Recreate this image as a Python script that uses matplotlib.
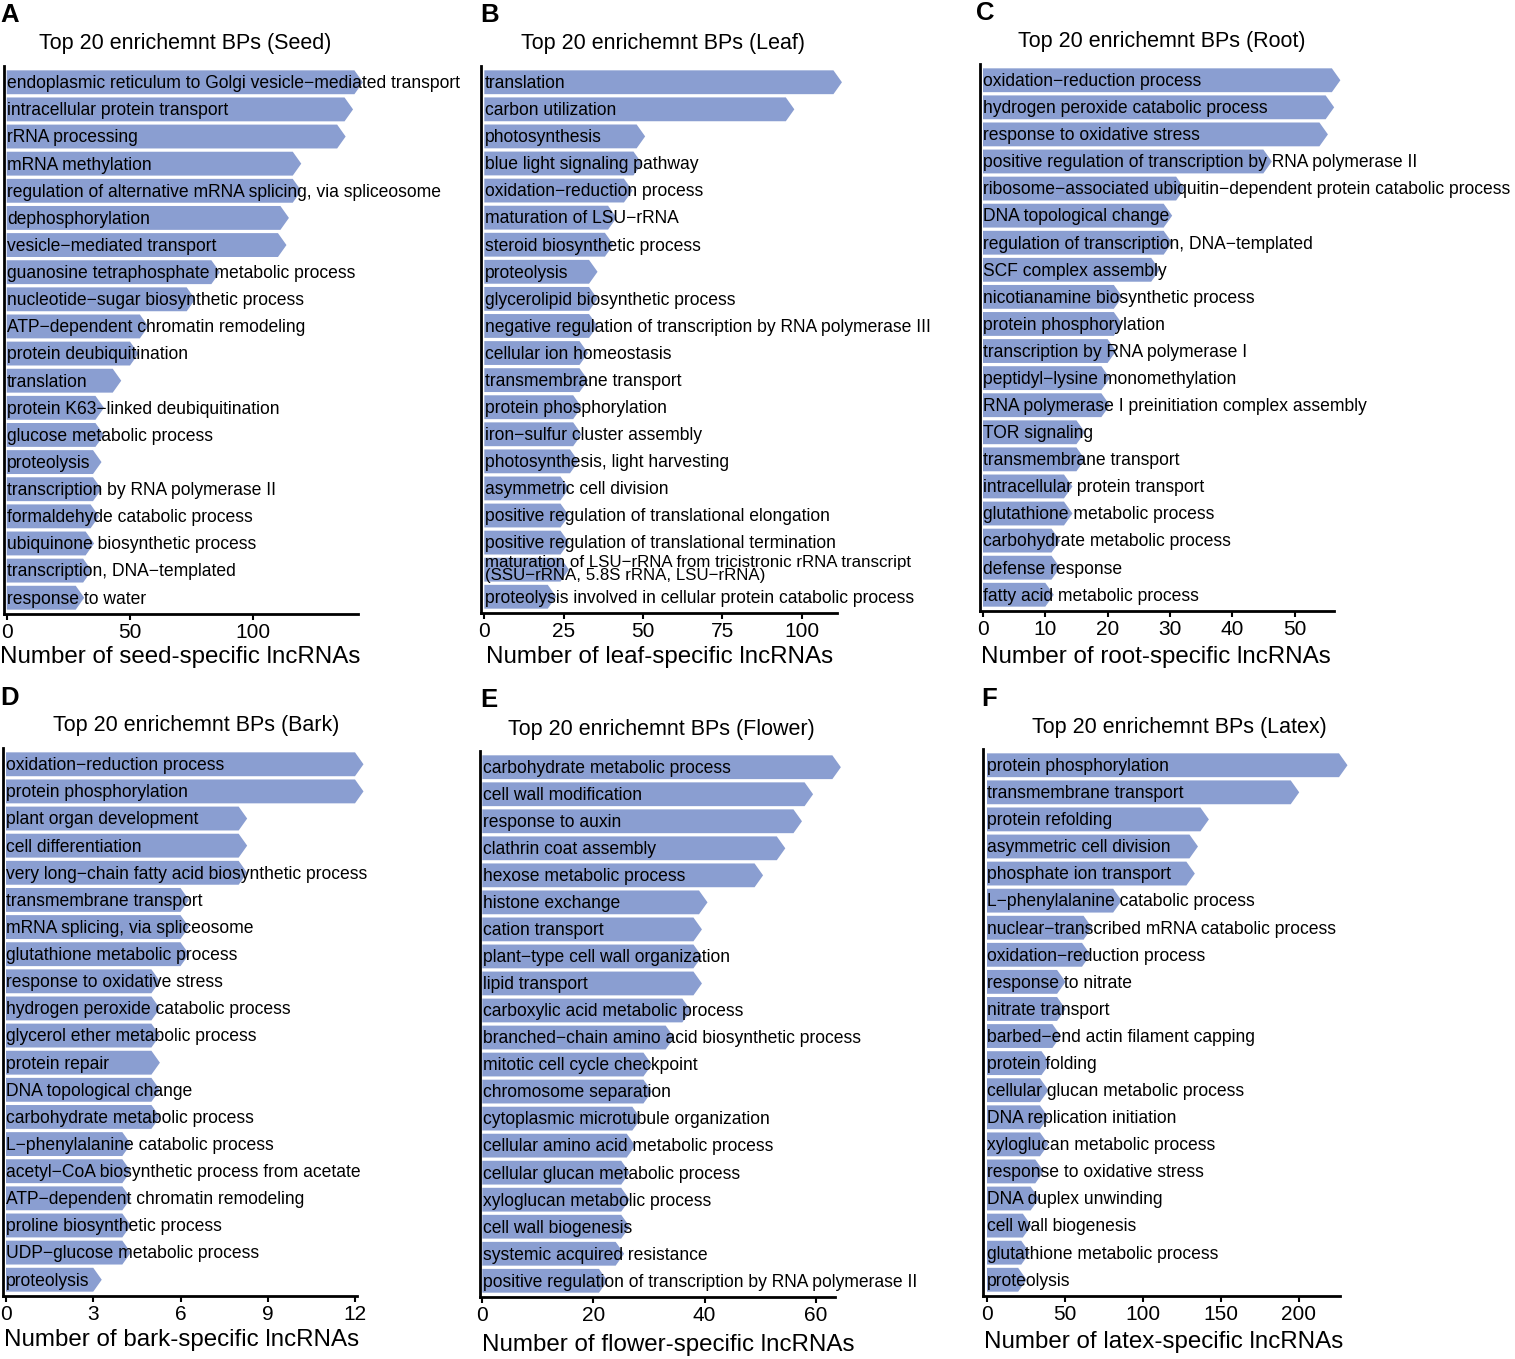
import matplotlib
matplotlib.use("Agg")
import matplotlib.pyplot as plt
from matplotlib.patches import Polygon

plt.rcParams['font.family'] = ['Liberation Sans', 'DejaVu Sans']

# ---- data ----
seed_terms = [
    "endoplasmic reticulum to Golgi vesicle−mediated transport",
    "intracellular protein transport",
    "rRNA processing",
    "mRNA methylation",
    "regulation of alternative mRNA splicing, via spliceosome",
    "dephosphorylation",
    "vesicle−mediated transport",
    "guanosine tetraphosphate metabolic process",
    "nucleotide−sugar biosynthetic process",
    "ATP−dependent chromatin remodeling",
    "protein deubiquitination",
    "translation",
    "protein K63−linked deubiquitination",
    "glucose metabolic process",
    "proteolysis",
    "transcription by RNA polymerase II",
    "formaldehyde catabolic process",
    "ubiquinone biosynthetic process",
    "transcription, DNA−templated",
    "response to water",
]
seed_counts = [141, 137, 134, 116, 116, 111, 110, 83, 73, 54,
               50, 43, 36, 36, 35, 35, 34, 32, 31, 28]

leaf_terms = [
    "translation",
    "carbon utilization",
    "photosynthesis",
    "blue light signaling pathway",
    "oxidation−reduction process",
    "maturation of LSU−rRNA",
    "steroid biosynthetic process",
    "proteolysis",
    "glycerolipid biosynthetic process",
    "negative regulation of transcription by RNA polymerase III",
    "cellular ion homeostasis",
    "transmembrane transport",
    "protein phosphorylation",
    "iron−sulfur cluster assembly",
    "photosynthesis, light harvesting",
    "asymmetric cell division",
    "positive regulation of translational elongation",
    "positive regulation of translational termination",
    "maturation of LSU−rRNA from tricistronic rRNA transcript\n(SSU−rRNA, 5.8S rRNA, LSU−rRNA)",
    "proteolysis involved in cellular protein catabolic process",
]
leaf_counts = [110, 95, 48, 47, 44, 39, 38, 33, 33, 33,
               30, 30, 28, 28, 27, 24, 24, 24, 24, 20]

root_terms = [
    "oxidation−reduction process",
    "hydrogen peroxide catabolic process",
    "response to oxidative stress",
    "positive regulation of transcription by RNA polymerase II",
    "ribosome−associated ubiquitin−dependent protein catabolic process",
    "DNA topological change",
    "regulation of transcription, DNA−templated",
    "SCF complex assembly",
    "nicotianamine biosynthetic process",
    "protein phosphorylation",
    "transcription by RNA polymerase I",
    "peptidyl−lysine monomethylation",
    "RNA polymerase I preinitiation complex assembly",
    "TOR signaling",
    "transmembrane transport",
    "intracellular protein transport",
    "glutathione metabolic process",
    "carbohydrate metabolic process",
    "defense response",
    "fatty acid metabolic process",
]
root_counts = [56, 55, 54, 45, 31, 29, 29, 27, 21, 21,
               20, 19, 19, 15, 15, 13, 13, 11, 11, 10]

bark_terms = [
    "oxidation−reduction process",
    "protein phosphorylation",
    "plant organ development",
    "cell differentiation",
    "very long−chain fatty acid biosynthetic process",
    "transmembrane transport",
    "mRNA splicing, via spliceosome",
    "glutathione metabolic process",
    "response to oxidative stress",
    "hydrogen peroxide catabolic process",
    "glycerol ether metabolic process",
    "protein repair",
    "DNA topological change",
    "carbohydrate metabolic process",
    "L−phenylalanine catabolic process",
    "acetyl−CoA biosynthetic process from acetate",
    "ATP−dependent chromatin remodeling",
    "proline biosynthetic process",
    "UDP−glucose metabolic process",
    "proteolysis",
]
bark_counts = [12, 12, 8, 8, 8, 6, 6, 6, 5, 5,
               5, 5, 5, 5, 4, 4, 4, 4, 4, 3]

flower_terms = [
    "carbohydrate metabolic process",
    "cell wall modification",
    "response to auxin",
    "clathrin coat assembly",
    "hexose metabolic process",
    "histone exchange",
    "cation transport",
    "plant−type cell wall organization",
    "lipid transport",
    "carboxylic acid metabolic process",
    "branched−chain amino acid biosynthetic process",
    "mitotic cell cycle checkpoint",
    "chromosome separation",
    "cytoplasmic microtubule organization",
    "cellular amino acid metabolic process",
    "cellular glucan metabolic process",
    "xyloglucan metabolic process",
    "cell wall biogenesis",
    "systemic acquired resistance",
    "positive regulation of transcription by RNA polymerase II",
]
flower_counts = [63, 58, 56, 53, 49, 39, 38, 38, 38, 36,
                 33, 29, 29, 27, 26, 25, 25, 25, 24, 21]

latex_terms = [
    "protein phosphorylation",
    "transmembrane transport",
    "protein refolding",
    "asymmetric cell division",
    "phosphate ion transport",
    "L−phenylalanine catabolic process",
    "nuclear−transcribed mRNA catabolic process",
    "oxidation−reduction process",
    "response to nitrate",
    "nitrate transport",
    "barbed−end actin filament capping",
    "protein folding",
    "cellular glucan metabolic process",
    "DNA replication initiation",
    "xyloglucan metabolic process",
    "response to oxidative stress",
    "DNA duplex unwinding",
    "cell wall biogenesis",
    "glutathione metabolic process",
    "proteolysis",
]
latex_counts = [226, 195, 137, 130, 128, 81, 62, 61, 45, 45,
                42, 35, 34, 34, 34, 31, 28, 23, 22, 20]

tissues = ["Seed", "Leaf", "Root", "Bark", "Flower", "Latex"]
letters = ["A", "B", "C", "D", "E", "F"]
all_terms = [seed_terms, leaf_terms, root_terms, bark_terms, flower_terms, latex_terms]
all_counts = [seed_counts, leaf_counts, root_counts, bark_counts, flower_counts, latex_counts]
all_ticks = [[0, 50, 100], [0, 25, 50, 75, 100], [0, 10, 20, 30, 40, 50],
             [0, 3, 6, 9, 12], [0, 20, 40, 60], [0, 50, 100, 150, 200]]

# ---- layout in pixels: spine x, zero x, ref tick x, ref value, axis end x, top y, bottom y
W, H = 1515, 1359
layout = [
    (3.5, 6.7, 253.3, 100, 358, 66, 614),
    (481, 484.3, 801.7, 100, 836.7, 66, 613),
    (979.5, 983, 1294.5, 50, 1334, 64, 611),
    (3.3, 6, 355, 12, 356.7, 748, 1296),
    (479.7, 482.3, 815.7, 60, 835, 751, 1297),
    (982.7, 987, 1298.5, 200, 1340, 749, 1296),
]
# title centre (x, y) and x-label centre (x, y), pixels
title_pos = [(185, 44), (663, 44), (1162, 42), (196, 726), (661, 729), (1179, 727)]
xlab_pos = [(180, 657), (660, 657), (1156, 657), (182, 1340), (668, 1345), (1164, 1342)]
letter_pos = [(0, 15), (480, 15), (976, 13), (0, 698), (480, 700), (981, 699)]

bar_color = "#8A9ED1"
fig = plt.figure(figsize=(W / 100, H / 100), dpi=100)

for k in range(6):
    sx, zx, tx, tv, ex, top, bot = layout[k]
    ax = fig.add_axes([sx / W, 1 - bot / H, (ex - sx) / W, (bot - top) / H])
    ppu = (tx - zx) / tv
    xmin = -(zx - sx) / ppu
    xmax = (ex - zx) / ppu
    ax.set_xlim(xmin, xmax)
    n = len(all_terms[k])
    ax.set_ylim(n - 0.4, -0.6)
    tip = 8.5 / ppu
    h = 0.44
    for i, (term, v) in enumerate(zip(all_terms[k], all_counts[k])):
        poly = Polygon([(0, i - h), (v, i - h), (v + tip, i), (v, i + h), (0, i + h)],
                       closed=True, facecolor=bar_color, edgecolor='none', clip_on=False)
        ax.add_patch(poly)
        if "\n" in term:
            ax.text(0.3 / ppu, i - 0.02, term, ha='left', va='center', fontsize=12.2,
                    linespacing=0.88, color='black')
        else:
            ax.text(0.3 / ppu, i + 0.05, term, ha='left', va='center', fontsize=12.65,
                    color='black')
    ax.set_yticks([])
    ax.set_xticks(all_ticks[k])
    ax.tick_params(axis='x', labelsize=15, length=4, width=1.5, pad=2.5, colors='black')
    for s in ['top', 'right']:
        ax.spines[s].set_visible(False)
    for s in ['left', 'bottom']:
        ax.spines[s].set_linewidth(2)

    fig.text(xlab_pos[k][0] / W, 1 - xlab_pos[k][1] / H,
             "Number of %s-specific lncRNAs" % tissues[k].lower(),
             fontsize=17.4, ha='center', va='center')
    fig.text(title_pos[k][0] / W, 1 - title_pos[k][1] / H,
             "Top 20 enrichemnt BPs (%s)" % tissues[k],
             fontsize=15.5, ha='center', va='center')
    fig.text(letter_pos[k][0] / W, 1 - letter_pos[k][1] / H, letters[k],
             fontsize=18.5, fontweight='bold', ha='left', va='center')

fig.savefig("out.png", dpi=100)
